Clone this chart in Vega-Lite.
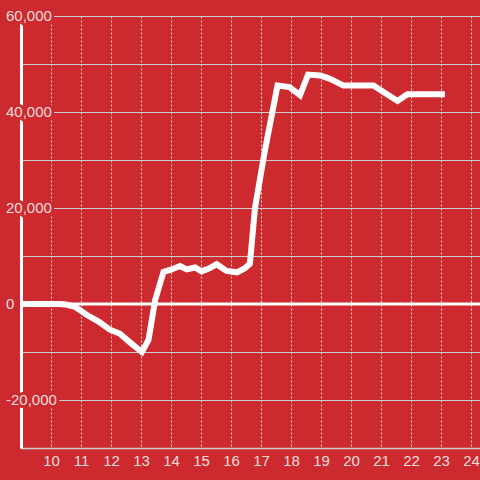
{
  "$schema": "https://vega.github.io/schema/vega-lite/v6.json",
  "width": 459,
  "height": 432,
  "autosize": {"type": "none"},
  "padding": {"left": 21, "top": 16, "right": 0, "bottom": 32},
  "background": "#cc2a2f",
  "config": {
    "view": {"stroke": null},
    "font": "Liberation Sans",
    "axis": {"labelFont": "Liberation Sans", "labelFontSize": 15, "labelColor": "#f3dede", "ticks": false, "title": null},
    "axisX": {
      "format": "d",
      "labelExpr": "datum.value < 9.5 ? '' : datum.label",
      "domainColor": "#cfcfcf", "domainWidth": 1.5,
      "grid": true, "gridColor": "#dddddd", "gridDash": [2, 2], "gridWidth": 1,
      "labelPadding": 5, "labelFlush": false, "labelOverlap": false
    },
    "axisY": {
      "labels": false,
      "domainColor": "#ffffff", "domainWidth": 3,
      "grid": true, "gridColor": "#cccccc", "gridWidth": 1
    }
  },
  "datasets": {
    "series": [
      {"x": 9.0, "y": 0},
      {"x": 10.3, "y": 0},
      {"x": 10.5, "y": -100},
      {"x": 10.8, "y": -600},
      {"x": 11.2, "y": -2300},
      {"x": 11.6, "y": -3700},
      {"x": 11.95, "y": -5300},
      {"x": 12.3, "y": -6200},
      {"x": 12.65, "y": -8100},
      {"x": 13.03, "y": -10000},
      {"x": 13.25, "y": -7500},
      {"x": 13.47, "y": 800},
      {"x": 13.75, "y": 6700},
      {"x": 14.02, "y": 7200},
      {"x": 14.3, "y": 7900},
      {"x": 14.52, "y": 7200},
      {"x": 14.8, "y": 7600},
      {"x": 15.02, "y": 6800},
      {"x": 15.3, "y": 7500},
      {"x": 15.52, "y": 8300},
      {"x": 15.85, "y": 6900},
      {"x": 16.2, "y": 6600},
      {"x": 16.45, "y": 7400},
      {"x": 16.63, "y": 8400},
      {"x": 16.8, "y": 20000},
      {"x": 17.13, "y": 32000},
      {"x": 17.55, "y": 45500},
      {"x": 17.95, "y": 45200},
      {"x": 18.3, "y": 43500},
      {"x": 18.57, "y": 47800},
      {"x": 18.97, "y": 47600},
      {"x": 19.3, "y": 46900},
      {"x": 19.75, "y": 45500},
      {"x": 20.75, "y": 45500},
      {"x": 21.07, "y": 44200},
      {"x": 21.55, "y": 42300},
      {"x": 21.88, "y": 43700},
      {"x": 23.13, "y": 43700}
    ],
    "zero": [{"y": 0}],
    "ylabels": [
      {"v": -20000, "label": "-20,000"},
      {"v": 0, "label": "0"},
      {"v": 20000, "label": "20,000"},
      {"v": 40000, "label": "40,000"},
      {"v": 60000, "label": "60,000"}
    ]
  },
  "layer": [
    {
      "data": {"name": "series"},
      "mark": {"type": "line", "color": "#ffffff", "strokeWidth": 6, "clip": false},
      "encoding": {
        "x": {
          "field": "x", "type": "quantitative",
          "scale": {"domain": [9, 24.3], "nice": false, "zero": false}
        },
        "y": {
          "field": "y", "type": "quantitative",
          "scale": {"domain": [-30000, 60000], "nice": false}
        }
      }
    },
    {
      "data": {"name": "zero"},
      "mark": {"type": "rule", "color": "#ffffff", "strokeWidth": 3},
      "encoding": {"y": {"field": "y", "type": "quantitative"}}
    },
    {
      "data": {"name": "ylabels"},
      "mark": {"type": "text", "align": "left", "baseline": "middle", "dx": -15, "fontSize": 15, "font": "Liberation Sans", "fill": "#cc2a2f", "stroke": "#cc2a2f", "strokeWidth": 6, "strokeJoin": "round", "clip": false},
      "encoding": {
        "x": {"datum": 9, "type": "quantitative"},
        "y": {"field": "v", "type": "quantitative"},
        "text": {"field": "label"}
      }
    },
    {
      "data": {"name": "ylabels"},
      "mark": {"type": "text", "align": "left", "baseline": "middle", "dx": -15, "fontSize": 15, "font": "Liberation Sans", "fill": "#f3dede", "clip": false},
      "encoding": {
        "x": {"datum": 9, "type": "quantitative"},
        "y": {"field": "v", "type": "quantitative"},
        "text": {"field": "label"}
      }
    }
  ]
}
